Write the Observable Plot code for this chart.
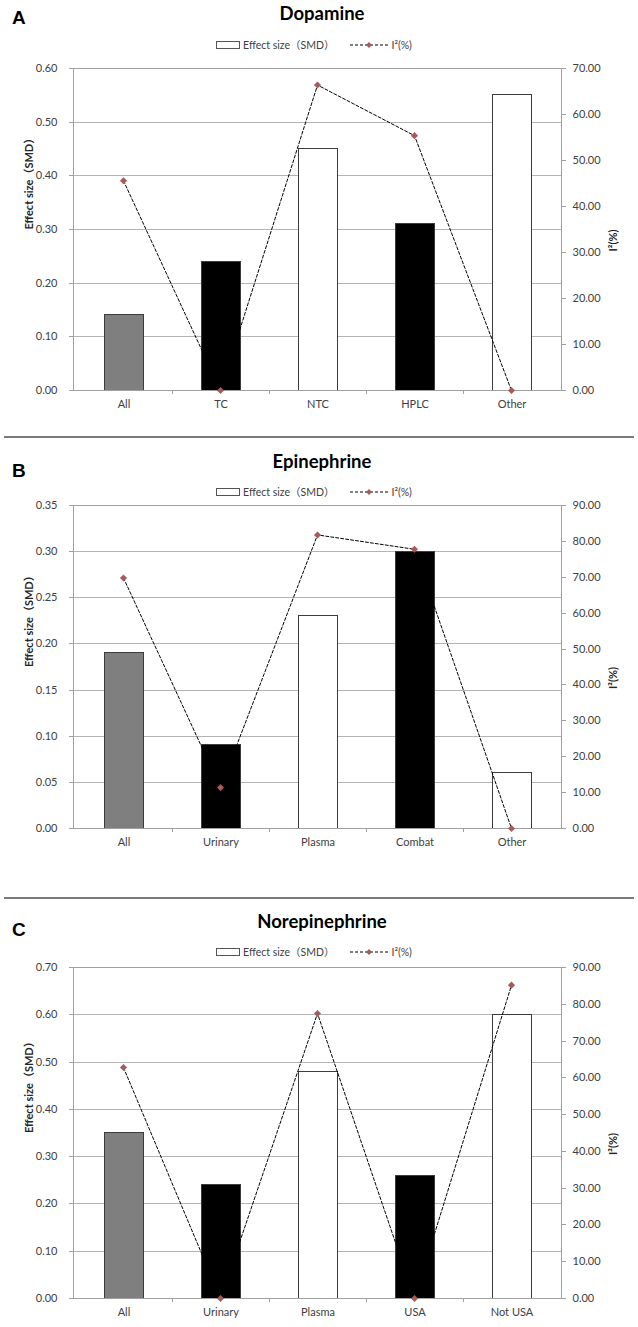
<!DOCTYPE html>
<html><head><meta charset="utf-8">
<script src="https://cdn.jsdelivr.net/npm/d3@7"></script>
<script src="https://cdn.jsdelivr.net/npm/@observablehq/plot@0.6"></script>
<style>
body{margin:0;background:#fff;}
#root{position:relative;width:638px;height:1327px;overflow:hidden;background:#fff;font-family:Lato,"Noto Sans CJK SC",sans-serif;}
.abs{position:absolute;}
.title{left:0;width:644px;text-align:center;font-weight:bold;font-size:18.5px;line-height:18px;color:#000;}
.letter{left:12px;font-family:"Liberation Sans",Arial,sans-serif;font-weight:bold;font-size:19px;line-height:19px;color:#000;}
.legend{left:0;width:638px;display:flex;justify-content:center;align-items:center;font-size:10.5px;color:#404040;height:12px;line-height:12px;white-space:nowrap;box-sizing:border-box;padding-right:10px;}
.sep{left:4px;width:630px;height:2px;background:#7a7a7a;}
svg.plotsvg{position:absolute;left:0;overflow:visible;}
</style></head><body><div id="root"></div><script>
// ---------- data ----------
const dopamineCategories = ["All", "TC", "NTC", "HPLC", "Other"];
const dopamineSMD = [0.14, 0.24, 0.45, 0.31, 0.55];
const dopamineI2 = [45.6, 0, 66.4, 55.4, 0];
const dopamineGroups = ["overall", "method A", "method B", "method A", "method B"];
const dopamineSMDTicks = [0, 0.1, 0.2, 0.3, 0.4, 0.5, 0.6];
const dopamineI2Ticks = [0, 10, 20, 30, 40, 50, 60, 70];

const epinephrineCategories = ["All", "Urinary", "Plasma", "Combat", "Other"];
const epinephrineSMD = [0.19, 0.09, 0.23, 0.30, 0.06];
const epinephrineI2 = [69.8, 11.4, 81.8, 77.8, 0];
const epinephrineGroups = ["overall", "method A", "method B", "method A", "method B"];
const epinephrineSMDTicks = [0, 0.05, 0.10, 0.15, 0.20, 0.25, 0.30, 0.35];
const epinephrineI2Ticks = [0, 10, 20, 30, 40, 50, 60, 70, 80, 90];

const norepinephrineCategories = ["All", "Urinary", "Plasma", "USA", "Not USA"];
const norepinephrineSMD = [0.35, 0.24, 0.48, 0.26, 0.60];
const norepinephrineI2 = [62.8, 0, 77.5, 0, 85.2];
const norepinephrineGroups = ["overall", "method A", "method B", "method A", "method B"];
const norepinephrineSMDTicks = [0, 0.1, 0.2, 0.3, 0.4, 0.5, 0.6, 0.7];
const norepinephrineI2Ticks = [0, 10, 20, 30, 40, 50, 60, 70, 80, 90];

const legendBarLabel = "Effect size（SMD）";
const legendLineLabel = "I²(%)";
const leftAxisTitle = "Effect size（SMD）";
const rightAxisTitle = "I²(%)";

// ---------- layout / style ----------
const root = document.getElementById("root");
const W = 638, ML = 73, MR = 77, MT = 10, MB = 30;
const FONT = 'Lato, "Noto Sans CJK SC", sans-serif';
const AXIS = "#a0a0a0", GRID = "#b4b4b4", TXT = "#404040", MARK = "#a85a5a";
const CRISP = {shapeRendering: "crispEdges"};

function addDiv(cls, top, html, extra = "") {
  const d = document.createElement("div");
  d.className = "abs " + cls;
  d.style.cssText = `top:${top}px;` + extra;
  d.innerHTML = html;
  root.appendChild(d);
  return d;
}

function legendHTML() {
  return `<span style="display:inline-block;width:22px;height:6px;border:1px solid #555;background:#fff;margin-right:3px"></span>` +
    `<span>${legendBarLabel}</span>` +
    `<svg style="margin-left:16px;margin-right:3px" width="38" height="8"><line x1="0" y1="4" x2="38" y2="4" stroke="#000" stroke-width="1" stroke-dasharray="3,2"/><path d="M19,1 L22,4 L19,7 L16,4 Z" fill="${MARK}"/></svg>` +
    `<span>${legendLineLabel}</span>`;
}

function panel({letter, title, letterTop, titleTop, legendTop, plotTop, plotH, cats, smd, i2, groups, smdTicks, i2Ticks}) {
  addDiv("letter", letterTop, letter);
  addDiv("title", titleTop, title);
  addDiv("legend", legendTop, legendHTML());

  const rows = cats.map((c, i) => ({cat: c, smd: smd[i], i2: i2[i], group: groups[i]}));
  const height = MT + plotH + MB;
  const step = (W - ML - MR) / cats.length;
  const xOpts = {domain: cats, paddingInner: 0.6, paddingOuter: 0.3};
  const common = {
    width: W, height, marginLeft: ML, marginRight: MR, marginTop: MT, marginBottom: MB,
    style: {background: "transparent", fontFamily: FONT, fontSize: "11px", color: TXT}
  };

  const main = Plot.plot({
    ...common,
    x: xOpts,
    y: {domain: [smdTicks[0], smdTicks[smdTicks.length - 1]]},
    color: {domain: ["overall", "method A", "method B"], range: ["#7f7f7f", "#000000", "#ffffff"]},
    marks: [
      Plot.gridY(smdTicks.slice(1), {stroke: GRID, strokeOpacity: 1, strokeWidth: 1, ...CRISP}),
      Plot.barY(rows, {x: "cat", y: "smd", fill: "group", stroke: "#3c3c3c", strokeWidth: 1, ...CRISP}),
      Plot.frame({stroke: AXIS, ...CRISP}),
      Plot.axisY(smdTicks, {tickFormat: d => d.toFixed(2), tickSize: 4, tickPadding: 12, stroke: AXIS, fill: TXT, label: null, ...CRISP}),
      Plot.axisX(cats, {tickSize: 0, tickPadding: 10, fill: TXT, label: null}),
      Plot.tickX(cats.slice(1), {x: d => d, dx: -step / 2, insetTop: plotH, insetBottom: -4, stroke: AXIS, ...CRISP}),
      Plot.text([leftAxisTitle], {frameAnchor: "left", text: d => d, dx: -44, rotate: -90, fontWeight: "bold", fill: "#262626", fontSize: 11})
    ]
  });
  main.classList.add("plotsvg");
  main.style.top = (plotTop - MT) + "px";
  root.appendChild(main);

  const over = Plot.plot({
    ...common,
    x: {...xOpts, axis: null},
    y: {domain: [i2Ticks[0], i2Ticks[i2Ticks.length - 1]]},
    marks: [
      Plot.line(rows, {x: "cat", y: "i2", stroke: "#000", strokeWidth: 1, strokeDasharray: "3,2"}),
      Plot.dot(rows, {x: "cat", y: "i2", symbol: "diamond2", r: 3.2, fill: MARK, stroke: "none"}),
      Plot.axisY(i2Ticks, {anchor: "right", tickFormat: d => d.toFixed(2), tickSize: 4, tickPadding: 7, stroke: AXIS, fill: TXT, label: null, ...CRISP}),
      Plot.text([rightAxisTitle], {frameAnchor: "right", text: d => d, dx: 52, rotate: -90, fontWeight: "bold", fill: "#262626", fontSize: 11})
    ]
  });
  over.classList.add("plotsvg");
  over.style.top = (plotTop - MT) + "px";
  root.appendChild(over);
}

panel({letter: "A", title: "Dopamine", letterTop: 8, titleTop: 4, legendTop: 39, plotTop: 68, plotH: 322,
  cats: dopamineCategories, smd: dopamineSMD, i2: dopamineI2, groups: dopamineGroups,
  smdTicks: dopamineSMDTicks, i2Ticks: dopamineI2Ticks});

addDiv("sep", 436, "");

panel({letter: "B", title: "Epinephrine", letterTop: 461, titleTop: 452, legendTop: 486, plotTop: 505, plotH: 323,
  cats: epinephrineCategories, smd: epinephrineSMD, i2: epinephrineI2, groups: epinephrineGroups,
  smdTicks: epinephrineSMDTicks, i2Ticks: epinephrineI2Ticks});

addDiv("sep", 897, "");

panel({letter: "C", title: "Norepinephrine", letterTop: 920, titleTop: 912, legendTop: 946, plotTop: 967, plotH: 331,
  cats: norepinephrineCategories, smd: norepinephrineSMD, i2: norepinephrineI2, groups: norepinephrineGroups,
  smdTicks: norepinephrineSMDTicks, i2Ticks: norepinephrineI2Ticks});
</script></body></html>
